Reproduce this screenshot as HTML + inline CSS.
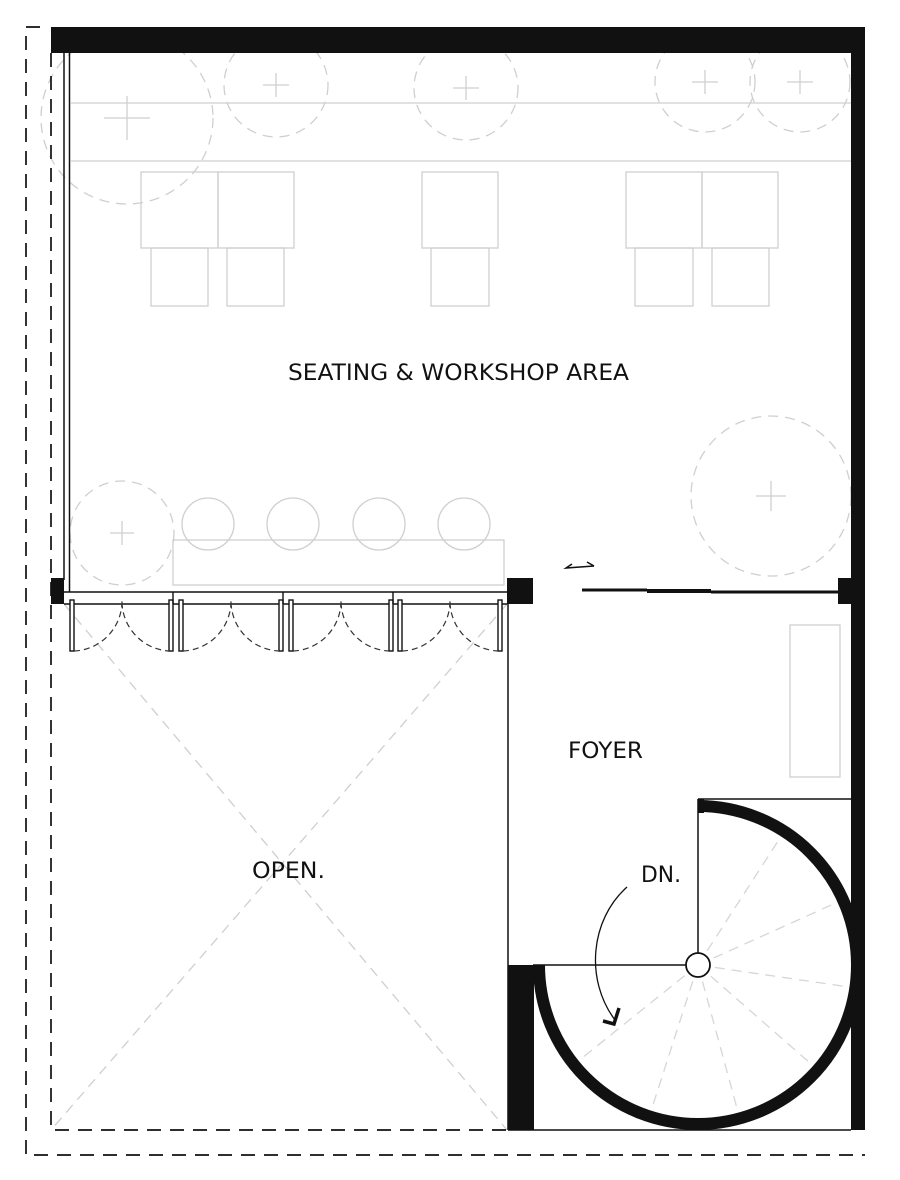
<!DOCTYPE html>
<html><head><meta charset="utf-8"><style>
html,body{margin:0;padding:0;background:#fff;}
svg{display:block;}
text{font-family:"DejaVu Sans","Liberation Sans",sans-serif;fill:#111;}
</style></head><body>
<svg width="900" height="1180" viewBox="0 0 900 1180" xmlns="http://www.w3.org/2000/svg">
<rect width="900" height="1180" fill="#fff"/>
<g fill="none" stroke="#cfcfcf" stroke-width="1.3">
<line x1="71" y1="103" x2="851" y2="103"/>
<line x1="71" y1="161" x2="851" y2="161"/>
<rect x="141" y="172" width="77" height="76"/><rect x="218" y="172" width="76" height="76"/>
<rect x="151" y="248" width="57" height="58"/><rect x="227" y="248" width="57" height="58"/>
<rect x="422" y="172" width="76" height="76"/><rect x="431" y="248" width="58" height="58"/>
<rect x="626" y="172" width="76" height="76"/><rect x="702" y="172" width="76" height="76"/>
<rect x="635" y="248" width="58" height="58"/><rect x="712" y="248" width="57" height="58"/>
<rect x="173" y="540" width="331" height="45"/>
<circle cx="208" cy="524" r="26"/><circle cx="293" cy="524" r="26"/><circle cx="379" cy="524" r="26"/><circle cx="464" cy="524" r="26"/>
<rect x="790" y="625" width="50" height="152"/>
</g>
<g fill="none" stroke="#cfcfcf" stroke-width="1.3" stroke-dasharray="10,7">
<circle cx="127" cy="118" r="86"/>
<circle cx="276" cy="85" r="52"/>
<circle cx="466" cy="88" r="52"/>
<circle cx="705" cy="82" r="50"/>
<circle cx="800" cy="82" r="50"/>
<circle cx="771" cy="496" r="80"/>
<circle cx="122" cy="533" r="52"/>
<line x1="64" y1="604" x2="507" y2="1130"/>
<line x1="507" y1="604" x2="51" y2="1130"/>
</g>
<g stroke="#cfcfcf" stroke-width="1.3" fill="none">
<path d="M104 118h46M127 96v44"/><path d="M263 85h26M276 73v24"/><path d="M453 88h26M466 76v24"/>
<path d="M692 82h26M705 70v24"/><path d="M787 82h26M800 70v24"/><path d="M756 496h30M771 481v30"/><path d="M110 533h24M122 521v24"/>
</g>
<g stroke="#d6d6d6" stroke-width="1.3" stroke-dasharray="10,7">
<line x1="698" y1="965" x2="780" y2="838"/>
<line x1="698" y1="965" x2="838" y2="902"/>
<line x1="698" y1="965" x2="849" y2="987"/>
<line x1="698" y1="965" x2="810" y2="1063"/>
<line x1="698" y1="965" x2="738" y2="1112"/>
<line x1="698" y1="965" x2="652" y2="1108"/>
<line x1="698" y1="965" x2="582" y2="1058"/>
</g>
<g fill="none" stroke="#111" stroke-width="1.7" stroke-dasharray="14,9">
<path d="M40 27H26V1155H865"/>
<path d="M51 53V1130H508"/>
</g>
<rect x="51" y="27" width="814" height="26" fill="#111"/>
<rect x="851" y="27" width="14" height="1103" fill="#111"/>
<line x1="64" y1="53" x2="64" y2="580" stroke="#111" stroke-width="1.5"/>
<line x1="69.5" y1="53" x2="69.5" y2="592" stroke="#111" stroke-width="1.5"/>
<rect x="51" y="578" width="13" height="26" fill="#111"/>
<rect x="507" y="578" width="26" height="26" fill="#111"/>
<rect x="838" y="578" width="13" height="26" fill="#111"/>
<g stroke="#111" stroke-width="1.4" fill="none">
<line x1="64" y1="592" x2="507" y2="592"/>
<line x1="64" y1="604" x2="507" y2="604"/>
<rect x="70" y="600" width="4" height="51" fill="#fff"/>
<rect x="169" y="600" width="4" height="51" fill="#fff"/>
<rect x="179" y="600" width="4" height="51" fill="#fff"/>
<rect x="279" y="600" width="4" height="51" fill="#fff"/>
<rect x="289" y="600" width="4" height="51" fill="#fff"/>
<rect x="389" y="600" width="4" height="51" fill="#fff"/>
<rect x="398" y="600" width="4" height="51" fill="#fff"/>
<rect x="498" y="600" width="4" height="51" fill="#fff"/>
<line x1="173" y1="592" x2="173" y2="604"/><line x1="283" y1="592" x2="283" y2="604"/><line x1="393" y1="592" x2="393" y2="604"/>
</g>
<g stroke="#333" stroke-width="1.2" fill="none" stroke-dasharray="6,4">
<path d="M74 651 A50 50 0 0 0 122 600 A50 50 0 0 0 169 651"/>
<path d="M183 651 A50 50 0 0 0 231 600 A50 50 0 0 0 279 651"/>
<path d="M293 651 A50 50 0 0 0 341 600 A50 50 0 0 0 389 651"/>
<path d="M402 651 A50 50 0 0 0 450 600 A50 50 0 0 0 498 651"/>
</g>
<line x1="582" y1="590" x2="647" y2="590" stroke="#111" stroke-width="3"/>
<line x1="647" y1="591" x2="711" y2="591" stroke="#111" stroke-width="4"/>
<line x1="711" y1="592" x2="838" y2="592" stroke="#111" stroke-width="3"/>
<path d="M572 564 L566 568 L594 566 M587 562 L594 566" stroke="#111" stroke-width="1.5" fill="none"/>
<g stroke="#111" stroke-width="1.5" fill="none">
<line x1="508" y1="604" x2="508" y2="1130"/>
<line x1="508" y1="1130" x2="851" y2="1130"/>
<line x1="533" y1="965" x2="688" y2="965"/>
<line x1="698" y1="799" x2="698" y2="955"/>
<line x1="698" y1="799" x2="851" y2="799"/>
</g>
<rect x="508" y="965" width="26" height="165" fill="#111"/>
<path d="M698 806 A159 159 0 1 1 539 965" stroke="#111" stroke-width="12" fill="none"/>
<rect x="698" y="799" width="6" height="14" fill="#111"/>
<circle cx="698" cy="965" r="12" fill="#fff" stroke="#111" stroke-width="1.8"/>
<path d="M627 887 C590 920 585 980 615 1020" stroke="#111" stroke-width="1.3" fill="none"/>
<path d="M603 1021 L614 1024 L619 1008" stroke="#111" stroke-width="3.5" fill="none"/>
<text x="288" y="380" font-size="22" textLength="341" lengthAdjust="spacingAndGlyphs">SEATING &amp; WORKSHOP AREA</text>
<text x="568" y="758" font-size="22" textLength="75" lengthAdjust="spacingAndGlyphs">FOYER</text>
<text x="252" y="878" font-size="22" textLength="73" lengthAdjust="spacingAndGlyphs">OPEN.</text>
<text x="641" y="882" font-size="22" textLength="40" lengthAdjust="spacingAndGlyphs">DN.</text>
</svg>
</body></html>
